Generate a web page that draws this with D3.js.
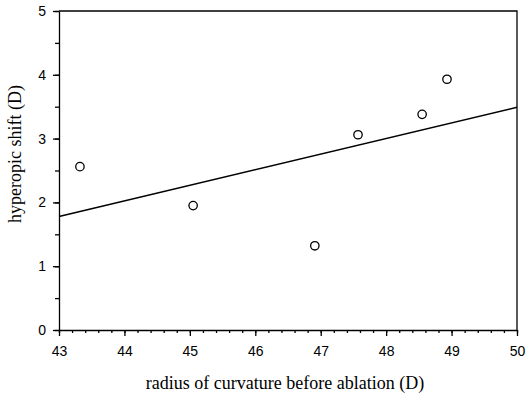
<!DOCTYPE html>
<html lang="en">
  <head>
    <meta charset="UTF-8" />
    <title>hyperopic shift</title>
    <style>
      body {
        margin: 0;
        background: #fff;
      }
      .axis path,
      .axis line {
        fill: none;
        stroke: #000;
        stroke-width: 1.3;
      }
      .axis text {
        font-family: "Liberation Sans", Arial, sans-serif;
        font-size: 14px;
        fill: #000;
      }
      .title {
        font-family: "Liberation Serif", "Times New Roman", serif;
        font-size: 18px;
        fill: #000;
      }
    </style>
  </head>
  <body>
    <div class="chart"></div>

    <script src="https://d3js.org/d3.v7.min.js"></script>

    <script>
      // 資料
      const radius = [43.32, 45.05, 46.91, 47.57, 48.55, 48.93];
      const shift = [2.56, 1.95, 1.32, 3.06, 3.38, 3.93];
      const fitX = [43, 50];
      const fitY = [1.78, 3.49];
      const xTicks = [43, 44, 45, 46, 47, 48, 49, 50];
      const yTicks = [0, 1, 2, 3, 4, 5];

      const w = 526;
      const h = 397;
      const margin = { top: 11, right: 9, bottom: 67, left: 59 };

      const svg = d3
        .select(".chart")
        .append("svg")
        .attr("width", w)
        .attr("height", h);

      const xScale = d3
        .scaleLinear()
        .domain([43, 50])
        .range([margin.left, w - margin.right]);

      const yScale = d3
        .scaleLinear()
        .domain([0, 5])
        .range([h - margin.bottom, margin.top]);

      // 小刻度
      svg
        .append("g")
        .attr("class", "axis")
        .attr("transform", `translate(0, ${h - margin.bottom})`)
        .call(d3.axisBottom(xScale).ticks(35).tickSize(3).tickFormat(""))
        .call((g) => g.select(".domain").remove());

      svg
        .append("g")
        .attr("class", "axis")
        .attr("transform", `translate(${margin.left}, 0)`)
        .call(d3.axisLeft(yScale).ticks(10).tickSize(4).tickFormat(""))
        .call((g) => g.select(".domain").remove());

      // X 軸
      svg
        .append("g")
        .attr("class", "axis")
        .attr("transform", `translate(0, ${h - margin.bottom})`)
        .call(
          d3
            .axisBottom(xScale)
            .tickValues(xTicks)
            .tickFormat(d3.format("d"))
            .tickSize(6)
            .tickSizeOuter(0)
            .tickPadding(10)
        );

      // Y 軸
      svg
        .append("g")
        .attr("class", "axis")
        .attr("transform", `translate(${margin.left}, 0)`)
        .call(
          d3
            .axisLeft(yScale)
            .tickValues(yTicks)
            .tickFormat(d3.format("d"))
            .tickSize(6)
            .tickSizeOuter(0)
            .tickPadding(7)
        );

      // 上、右框線
      svg
        .append("path")
        .attr("d", `M${xScale(43)},${yScale(5)}H${xScale(50)}V${yScale(0)}`)
        .attr("fill", "none")
        .attr("stroke", "#000")
        .attr("stroke-width", 1.3);

      // 回歸線
      svg
        .append("line")
        .attr("x1", xScale(fitX[0]))
        .attr("y1", yScale(fitY[0]))
        .attr("x2", xScale(fitX[1]))
        .attr("y2", yScale(fitY[1]))
        .attr("stroke", "#000")
        .attr("stroke-width", 1.6);

      // 點
      svg
        .append("g")
        .selectAll("circle")
        .data(radius)
        .enter()
        .append("circle")
        .attr("cx", (d) => xScale(d))
        .attr("cy", (d, i) => yScale(shift[i]))
        .attr("r", 4.2)
        .attr("fill", "none")
        .attr("stroke", "#000")
        .attr("stroke-width", 1.3);

      // 標題
      svg
        .append("text")
        .attr("class", "title")
        .attr("x", 285)
        .attr("y", 389)
        .attr("text-anchor", "middle")
        .text("radius of curvature before ablation (D)");

      svg
        .append("text")
        .attr("class", "title")
        .attr("transform", `translate(21, 154) rotate(-90)`)
        .attr("text-anchor", "middle")
        .text("hyperopic shift (D)");
    </script>
  </body>
</html>
